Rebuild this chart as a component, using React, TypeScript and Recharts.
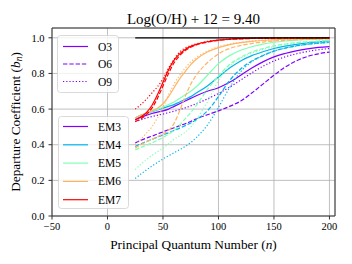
import React from 'react';
import { LineChart, Line, XAxis, YAxis, CartesianGrid, ReferenceLine } from 'recharts';

const nValues = [25, 30, 35, 40, 45, 50, 55, 60, 65, 70, 75, 80, 90, 100, 110, 120, 130, 140, 150, 160, 170, 180, 190, 200];

const em3O3 = [0.54, 0.555, 0.565, 0.575, 0.583, 0.59, 0.6, 0.615, 0.63, 0.645, 0.66, 0.675, 0.7, 0.72, 0.75, 0.79, 0.83, 0.865, 0.893, 0.912, 0.927, 0.938, 0.946, 0.951];
const em3O6 = [0.41, 0.425, 0.437, 0.448, 0.46, 0.472, 0.484, 0.495, 0.507, 0.518, 0.53, 0.545, 0.568, 0.59, 0.615, 0.645, 0.69, 0.74, 0.79, 0.835, 0.87, 0.895, 0.91, 0.92];
const em3O9 = [0.53, 0.54, 0.55, 0.558, 0.565, 0.572, 0.58, 0.588, 0.597, 0.607, 0.618, 0.63, 0.657, 0.688, 0.723, 0.763, 0.803, 0.84, 0.87, 0.893, 0.91, 0.923, 0.933, 0.94];
const em4O3 = [0.55, 0.565, 0.575, 0.585, 0.595, 0.605, 0.615, 0.625, 0.64, 0.655, 0.67, 0.69, 0.73, 0.78, 0.83, 0.87, 0.9, 0.922, 0.94, 0.953, 0.963, 0.971, 0.977, 0.982];
const em4O6 = [0.39, 0.405, 0.418, 0.43, 0.443, 0.455, 0.467, 0.48, 0.493, 0.507, 0.522, 0.54, 0.59, 0.67, 0.76, 0.825, 0.87, 0.9, 0.925, 0.942, 0.955, 0.964, 0.97, 0.975];
const em4O9 = [0.21, 0.235, 0.258, 0.28, 0.3, 0.32, 0.338, 0.355, 0.372, 0.39, 0.412, 0.44, 0.51, 0.61, 0.72, 0.81, 0.865, 0.9, 0.925, 0.942, 0.954, 0.963, 0.969, 0.974];
const em5O3 = [0.55, 0.565, 0.575, 0.587, 0.598, 0.61, 0.625, 0.64, 0.66, 0.68, 0.7, 0.725, 0.79, 0.855, 0.9, 0.93, 0.95, 0.965, 0.975, 0.982, 0.987, 0.99, 0.993, 0.995];
const em5O6 = [0.37, 0.385, 0.397, 0.41, 0.425, 0.44, 0.46, 0.48, 0.51, 0.545, 0.58, 0.62, 0.71, 0.785, 0.85, 0.89, 0.92, 0.94, 0.955, 0.965, 0.973, 0.978, 0.982, 0.985];
const em5O9 = [0.26, 0.29, 0.315, 0.34, 0.36, 0.38, 0.405, 0.43, 0.45, 0.47, 0.5, 0.54, 0.64, 0.76, 0.84, 0.885, 0.915, 0.935, 0.95, 0.962, 0.97, 0.976, 0.98, 0.984];
const em6O3 = [0.55, 0.565, 0.578, 0.59, 0.605, 0.63, 0.67, 0.72, 0.77, 0.81, 0.85, 0.88, 0.92, 0.945, 0.962, 0.973, 0.98, 0.985, 0.989, 0.992, 0.994, 0.995, 0.996, 0.997];
const em6O6 = [0.38, 0.4, 0.415, 0.43, 0.445, 0.46, 0.48, 0.52, 0.59, 0.67, 0.74, 0.79, 0.86, 0.91, 0.94, 0.957, 0.968, 0.976, 0.982, 0.986, 0.989, 0.991, 0.993, 0.994];
const em6O9 = [0.4, 0.43, 0.465, 0.5, 0.55, 0.61, 0.68, 0.74, 0.79, 0.83, 0.865, 0.89, 0.925, 0.95, 0.965, 0.975, 0.982, 0.987, 0.99, 0.992, 0.994, 0.995, 0.996, 0.997];
const em7O3 = [0.54, 0.555, 0.58, 0.62, 0.68, 0.75, 0.82, 0.875, 0.91, 0.935, 0.952, 0.963, 0.978, 0.987, 0.992, 0.995, 0.997, 0.998, 0.999, 0.999, 1.0, 1.0, 1.0, 1.0];
const em7O6 = [0.53, 0.545, 0.57, 0.605, 0.66, 0.73, 0.8, 0.86, 0.9, 0.928, 0.947, 0.96, 0.976, 0.986, 0.991, 0.994, 0.996, 0.997, 0.998, 0.999, 0.999, 1.0, 1.0, 1.0];
const em7O9 = [0.6, 0.625, 0.655, 0.69, 0.725, 0.77, 0.83, 0.88, 0.92, 0.942, 0.956, 0.966, 0.98, 0.988, 0.993, 0.995, 0.997, 0.998, 0.999, 0.999, 1.0, 1.0, 1.0, 1.0];
const lte = [1, 1, 1, 1, 1, 1, 1, 1, 1, 1, 1, 1, 1, 1, 1, 1, 1, 1, 1, 1, 1, 1, 1, 1];

const xTicks = [-50, 0, 50, 100, 150, 200];
const yTicks = [0, 0.2, 0.4, 0.6, 0.8, 1.0];
const emLabels = ['EM3', 'EM4', 'EM5', 'EM6', 'EM7'];
const oLabels = ['O3', 'O6', 'O9'];
const emColors = ['#8000ff', '#00b4eb', '#80ffb4', '#ffb462', '#ff0000'];
const dashes = ['', '4.4 1.9', '1.2 2'];

const groups = [
  [em3O3, em3O6, em3O9],
  [em4O3, em4O6, em4O9],
  [em5O3, em5O6, em5O9],
  [em6O3, em6O6, em6O9],
  [em7O3, em7O6, em7O9],
];

const series: { key: string; values: number[]; color: string; dash: string }[] = [];
groups.forEach((g, ei) => {
  g.forEach((vals, oi) => {
    series.push({ key: `${emLabels[ei]}_${oLabels[oi]}`, values: vals, color: emColors[ei], dash: dashes[oi] });
  });
});

const data = nValues.map((n, i) => {
  const row: Record<string, number> = { n, lte: lte[i] };
  series.forEach((s) => {
    row[s.key] = s.values[i];
  });
  return row;
});

const FONT = 'Liberation Serif';

export default function App() {
  return (
    <div style={{ position: 'absolute', left: 0, top: 0, width: 352, height: 264, background: '#fff' }}>
      <LineChart width={352} height={264} data={data} margin={{ top: 28, right: 17, left: 0, bottom: 0 }}>
        <CartesianGrid stroke="#b0b0b0" strokeWidth={0.8} />
        <XAxis
          type="number"
          dataKey="n"
          domain={[-50, 205]}
          ticks={xTicks}
          allowDataOverflow
          height={48}
          tickSize={3.5}
          tickMargin={3}
          stroke="#333"
          tick={{ fill: '#000', fontSize: 10.5, style: { fontFamily: FONT } }}
          tickFormatter={(v: number) => (v < 0 ? `\u2212${Math.abs(v)}` : `${v}`)}
        />
        <YAxis
          type="number"
          domain={[0, 1.055]}
          ticks={yTicks}
          allowDataOverflow
          width={52}
          tickSize={3.5}
          tickMargin={4}
          stroke="#333"
          tick={{ fill: '#000', fontSize: 10.5, style: { fontFamily: FONT } }}
          tickFormatter={(v: number) => v.toFixed(1)}
        />
        <ReferenceLine x={205} stroke="#333" strokeWidth={1} />
        <ReferenceLine y={1.055} stroke="#333" strokeWidth={1} />
        {series.map((s) => (
          <Line
            key={s.key}
            dataKey={s.key}
            stroke={s.color}
            strokeWidth={1.2}
            strokeDasharray={s.dash || undefined}
            dot={false}
            isAnimationActive={false}
            type="monotone"
          />
        ))}
        <Line dataKey="lte" stroke="#000" strokeWidth={1.2} dot={false} isAnimationActive={false} type="monotone" />
      </LineChart>
      <svg width={352} height={264} style={{ position: 'absolute', left: 0, top: 0, pointerEvents: 'none', fontFamily: FONT }}>
        <text x={193.5} y={24} textAnchor="middle" fontSize={15} fill="#000">Log(O/H) + 12 = 9.40</text>
        <text x={193.5} y={249} textAnchor="middle" fontSize={13.3} fill="#000">
          Principal Quantum Number (<tspan fontStyle="italic">n</tspan>)
        </text>
        <text x={20} y={122} textAnchor="middle" fontSize={13.3} fill="#000" transform="rotate(-90 20 122)">
          Departure Coefficient (<tspan fontStyle="italic">b</tspan><tspan fontStyle="italic" fontSize={9.5} dy={2}>n</tspan><tspan dy={-2}>)</tspan>
        </text>
        <rect x={57.5} y={35.5} width={61} height={57} rx={3} fill="#fff" fillOpacity={0.8} stroke="#d0d0d0" strokeWidth={0.8} />
        {oLabels.map((l, i) => (
          <g key={l}>
            <line x1={63} x2={88} y1={46.5 + i * 17.5} y2={46.5 + i * 17.5} stroke={emColors[0]} strokeWidth={1.2} strokeDasharray={dashes[i] || undefined} />
            <text x={98} y={46.5 + i * 17.5} dominantBaseline="central" fontSize={11.5} fill="#000">{l}</text>
          </g>
        ))}
        <rect x={58.5} y={116.5} width={70} height={92} rx={3} fill="#fff" fillOpacity={0.8} stroke="#d0d0d0" strokeWidth={0.8} />
        {emLabels.map((l, i) => (
          <g key={l}>
            <line x1={63} x2={88} y1={126.5 + i * 18.3} y2={126.5 + i * 18.3} stroke={emColors[i]} strokeWidth={1.2} />
            <text x={98} y={126.5 + i * 18.3} dominantBaseline="central" fontSize={11.5} fill="#000">{l}</text>
          </g>
        ))}
      </svg>
    </div>
  );
}
